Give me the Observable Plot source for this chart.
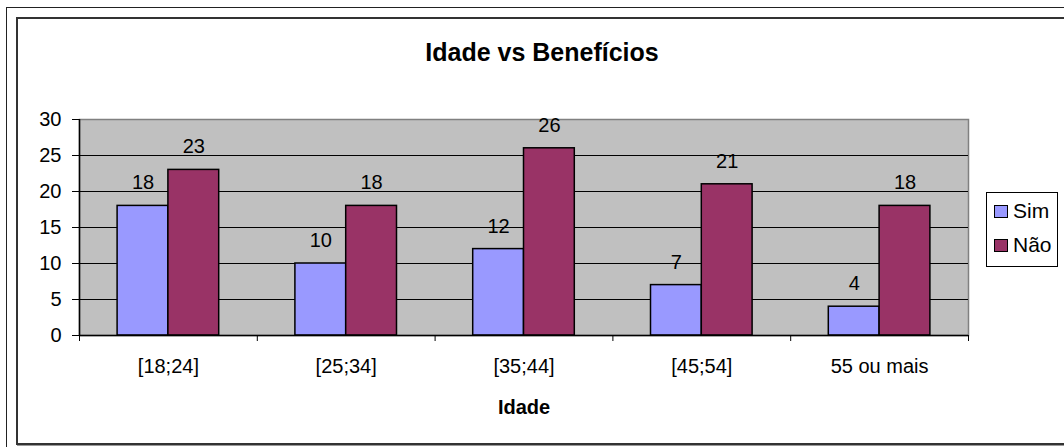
<!DOCTYPE html>
<html>
<head>
<meta charset="utf-8">
<script src="https://cdn.jsdelivr.net/npm/d3@7"></script>
<script src="https://cdn.jsdelivr.net/npm/@observablehq/plot@0.6"></script>
<style>
  html, body { margin: 0; padding: 0; background: #fff; }
  #wrap { position: relative; width: 1064px; height: 447px; overflow: hidden; font-family: "Liberation Sans", Arial, sans-serif; }
  #outer { position: absolute; left: 6px; top: 7px; width: 1100px; height: 500px; border-left: 1px solid #222; border-top: 1px solid #222; }
  #inner { position: absolute; left: 16px; top: 17px; width: 1100px; height: 424px; border: 2px solid #333; box-shadow: 1px 1px 0 #999; }
  #chart { position: absolute; left: 0; top: 0; }
  #title { position: absolute; left: 542px; top: 38px; transform: translateX(-50%); font-weight: bold; font-size: 25px; line-height: 28px; white-space: nowrap; color: #000; }
  #legend { position: absolute; left: 986px; top: 192px; width: 63px; padding: 1px 0 4px 7px; border: 1px solid #000; background: #fff; font-size: 21px; }
  .item { display: flex; align-items: center; height: 34px; }
  .sw { width: 12px; height: 11px; border: 1.5px solid #000; margin-right: 5px; }
  svg [aria-label="x-axis label"] text, svg text[aria-label="x-axis label"] { font-weight: bold; }
</style>
</head>
<body>
<div id="wrap">
  <div id="outer"></div>
  <div id="inner"></div>
  <div id="chart"></div>
  <div id="title">Idade vs Benefícios</div>
  <div id="legend"></div>
</div>
<script>
const categories = ["[18;24]", "[25;34]", "[35;44]", "[45;54]", "55 ou mais"];
const seriesNames = ["Sim", "Não"];
const sim = [18, 10, 12, 7, 4];
const nao = [23, 18, 26, 21, 18];
const colors = ["#9999FF", "#993366"];
const yTicks = [0, 5, 10, 15, 20, 25, 30];
const xLabel = "Idade";

// gap width 150% (Excel): each bar occupies 1/3.5 of a category band
const barW = 1 / 3.5;
const data = categories.flatMap((c, i) => [
  {cat: c, i, s: 0, serie: seriesNames[0], v: sim[i]},
  {cat: c, i, s: 1, serie: seriesNames[1], v: nao[i]}
]);
const x1 = d => d.i + 0.5 - barW + d.s * barW;
const x2 = d => d.i + 0.5 + d.s * barW;

const chart = Plot.plot({
  width: 1064,
  height: 447,
  marginLeft: 79,
  marginRight: 96,
  marginTop: 119,
  marginBottom: 112,
  style: {fontFamily: "'Liberation Sans', Arial, sans-serif", fontSize: "20px", color: "#000", background: "transparent", overflow: "visible"},
  x: {domain: [0, categories.length]},
  y: {domain: [0, 30]},
  color: {domain: seriesNames, range: colors},
  marks: [
    Plot.frame({fill: "#C0C0C0", stroke: "#808080", strokeWidth: 1.5}),
    Plot.gridY(yTicks.slice(1, -1), {stroke: "#000", strokeOpacity: 1, strokeWidth: 1.2}),
    Plot.rectY(data, {x1, x2, y: "v", fill: "serie", stroke: "#000", strokeWidth: 1.5}),
    Plot.text(data, {x: d => (x1(d) + x2(d)) / 2, y: "v", text: d => String(d.v), dy: -23, lineAnchor: "middle", fill: "#000", fontSize: 20}),
    Plot.axisY({ticks: yTicks, tickSize: 7, tickPadding: 11, label: null, tickFormat: d => String(d), stroke: "#000", fontSize: 20}),
    Plot.axisX({ticks: d3.range(0, categories.length + 1), tickSize: 6, tickFormat: () => "", label: null, stroke: "#000"}),
    Plot.axisX({ticks: categories.map((c, i) => i + 0.5), tickSize: 0, tickPadding: 23, tickFormat: d => categories[Math.floor(d)], label: xLabel, labelArrow: "none", labelAnchor: "center", labelOffset: 78, fontSize: 20}),
    Plot.ruleY([0], {stroke: "#000", strokeWidth: 1.5}),
    Plot.ruleX([0], {stroke: "#000", strokeWidth: 1.5})
  ]
});
document.getElementById("chart").appendChild(chart);

const legend = document.getElementById("legend");
seriesNames.forEach((n, k) => {
  const it = document.createElement("div");
  it.className = "item";
  const sw = document.createElement("div");
  sw.className = "sw";
  sw.style.background = colors[k];
  const t = document.createElement("span");
  t.textContent = n;
  it.appendChild(sw); it.appendChild(t);
  legend.appendChild(it);
});
</script>
</body>
</html>
